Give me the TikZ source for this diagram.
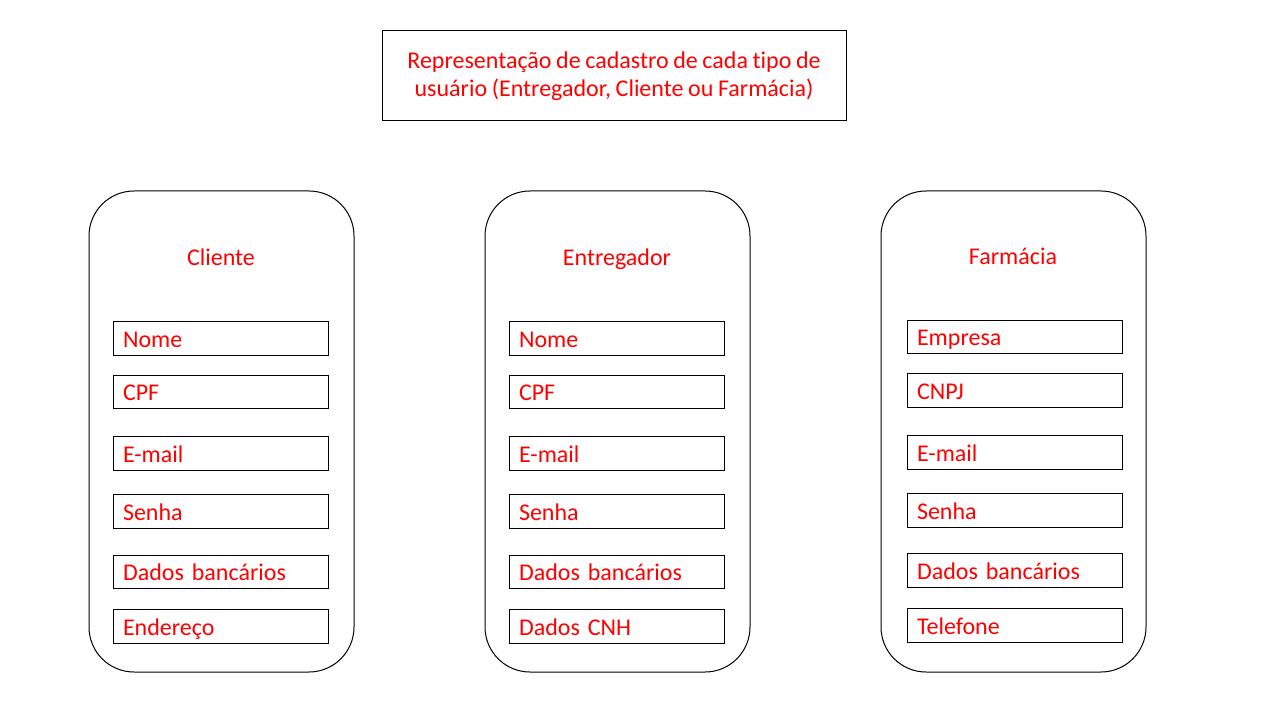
\documentclass[tikz,border=0pt]{standalone}
\usepackage{fontspec}
\setmainfont{Carlito}[Ligatures=NoCommon, WordSpace=0.85]
\usetikzlibrary{positioning}

\tikzset{
  redtext/.style={text=red, font=\fontsize{18}{21}\selectfont},
  column/.style={draw, line width=0.75pt, rounded corners=33.75pt,
    minimum width=198.75pt, minimum height=360.75pt},
  heading/.style={redtext, text height=15.25pt, text depth=1.75pt},
  field/.style={draw, line width=0.75pt, redtext, text width=146.25pt,
    align=left, inner xsep=7.5pt, inner ysep=4pt, text height=15pt, text depth=2pt},
}

\begin{document}
\begin{tikzpicture}[x=0.75pt, y=-0.75pt]
			%%%%% START %%%%%
			\useasboundingbox (0, 0) rectangle (1280, 720);
			
			\node[draw, line width=0.75pt, redtext, align=center,
			  minimum width=348pt, minimum height=67.5pt] (titulo) at (614, 76)
			  {Representação de cadastro de cada tipo de\\usuário (Entregador, Cliente ou Farmácia)};
			
			% Cliente
			\node[column] (cliente) at (221.5, 431.5) {};
			\node[heading] (clienteNome) at (221, 256) {Cliente};
			\node[field] (cNome) at (220.5, 338.5) {Nome};
			\node[field] (cCpf) at (220.5, 392) {CPF};
			\node[field] (cEmail) at (220.5, 453.5) {E-mail};
			\node[field] (cSenha) at (220.5, 511.5) {Senha};
			\node[field] (cBanco) at (220.5, 572) {Dados bancários};
			\node[field] (cEndereco) at (220.5, 626.5) {Endereço};
			
			% Entregador
			\node[column] (entregador) at (617.5, 431.5) {};
			\node[heading] (entregadorNome) at (617, 256) {Entregador};
			\node[field] (eNome) at (616.5, 338.5) {Nome};
			\node[field] (eCpf) at (616.5, 392) {CPF};
			\node[field] (eEmail) at (616.5, 453.5) {E-mail};
			\node[field] (eSenha) at (616.5, 511.5) {Senha};
			\node[field] (eBanco) at (616.5, 572) {Dados bancários};
			\node[field] (eCnh) at (616.5, 626.5) {Dados CNH};
			
			% Farmacia
			\node[column] (farmacia) at (1013.5, 431.5) {};
			\node[heading] (farmaciaNome) at (1013, 255) {Farmácia};
			\node[field] (fEmpresa) at (1014.5, 337) {Empresa};
			\node[field] (fCnpj) at (1014.5, 390.5) {CNPJ};
			\node[field] (fEmail) at (1014.5, 452.5) {E-mail};
			\node[field] (fSenha) at (1014.5, 510.5) {Senha};
			\node[field] (fBanco) at (1014.5, 570.5) {Dados bancários};
			\node[field] (fTelefone) at (1014.5, 625.5) {Telefone};
			
			%%%%% END %%%%%
\end{tikzpicture}
\end{document}
